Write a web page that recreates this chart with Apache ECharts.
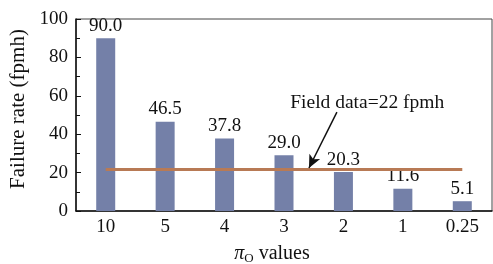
<!DOCTYPE html>
<html>
<head>
<meta charset="utf-8">
<script src="https://cdn.jsdelivr.net/npm/echarts@6/dist/echarts.min.js"></script>
<style>
  html, body { margin: 0; padding: 0; background: #fff; }
  #main { width: 493px; height: 264px; }
</style>
</head>
<body>
<div id="main"></div>
<script>
// pi_O values on the x axis
const categories = ['10', '5', '4', '3', '2', '1', '0.25']
// predicted failure rate (fpmh)
const failureRates = [90.0, 46.5, 37.8, 29.0, 20.3, 11.6, 5.1]
// field data reference
const fieldValue = 22
const fieldLabel = 'Field data=22 fpmh'
const yTicks = [0, 20, 40, 60, 80, 100]

const serif = 'Liberation Serif'
const last = categories.length - 1

let myChart = echarts.init(document.getElementById('main'), null, { renderer: 'canvas' })

myChart.setOption({
  backgroundColor: '#fff',
  animation: false,
  textStyle: { fontFamily: serif },
  grid: {
    left: 76, right: 1, top: 19, bottom: 53,
    show: true,
    borderColor: '#444',
    borderWidth: 1,
    containLabel: false,
    outerBoundsMode: 'none'
  },
  xAxis: [
    {
      type: 'category',
      data: categories,
      name: '{pi|π}{sub|O} values',
      nameLocation: 'middle',
      nameGap: 32,
      nameTextStyle: {
        rich: {
          pi: { fontFamily: serif, fontSize: 20, fontStyle: 'italic', color: '#111' },
          sub: { fontFamily: serif, fontSize: 13, color: '#111', padding: [9, 0, 0, 0] }
        },
        fontFamily: serif, fontSize: 20, color: '#111',
        padding: [0, 24, 0, 0]
      },
      axisLine: { lineStyle: { color: '#111', width: 1.5 } },
      axisTick: { show: false },
      axisLabel: { color: '#111', fontFamily: serif, fontSize: 19, margin: 7 }
    },
    {
      // hidden helper axis aligned to category centres, for the annotation
      type: 'value',
      min: -0.5,
      max: last + 0.5,
      show: false
    }
  ],
  yAxis: {
    type: 'value',
    min: yTicks[0],
    max: yTicks[yTicks.length - 1],
    interval: 20,
    name: 'Failure rate (fpmh)',
    nameLocation: 'middle',
    nameGap: 45,
    nameTextStyle: { fontFamily: serif, fontSize: 21, color: '#111', padding: [0, 0, 0, 12] },
    axisLine: { show: true, onZero: false, lineStyle: { color: '#111', width: 1.5 } },
    axisTick: { show: true, inside: true, length: 5, lineStyle: { color: '#111' } },
    minorTick: { show: true, splitNumber: 2, length: 4, lineStyle: { color: '#111' } },
    splitLine: { show: false },
    axisLabel: { color: '#111', fontFamily: serif, fontSize: 19, margin: 8 }
  },
  series: [
    {
      type: 'bar',
      data: failureRates,
      barWidth: 19,
      itemStyle: { color: '#7480a8' },
      label: {
        show: true,
        position: 'top',
        distance: 3,
        color: '#111',
        fontFamily: serif,
        fontSize: 19,
        formatter: p => p.value.toFixed(1)
      }
    },
    {
      // field data line + annotation
      type: 'line',
      xAxisIndex: 1,
      data: [],
      markLine: {
        silent: true,
        animation: false,
        label: { show: false },
        data: [
          [
            { coord: [0, fieldValue], symbol: 'none', lineStyle: { color: '#b87a55', width: 3, type: 'solid' } },
            { coord: [last, fieldValue], symbol: 'none' }
          ],
          [
            { coord: [3.89, 51.5], symbol: 'none', lineStyle: { color: '#111', width: 1.5, type: 'solid' } },
            { coord: [3.42, fieldValue + 0.4], symbol: 'arrow', symbolSize: [9, 13] }
          ]
        ]
      },
      markPoint: {
        silent: true,
        symbol: 'circle',
        symbolSize: 0,
        label: {
          show: true,
          position: 'inside',
          color: '#111',
          fontFamily: serif,
          fontSize: 19.5
        },
        data: [
          { coord: [4.4, 56.5], value: fieldLabel, label: { formatter: fieldLabel } }
        ]
      }
    }
  ]
})
</script>
</body>
</html>
